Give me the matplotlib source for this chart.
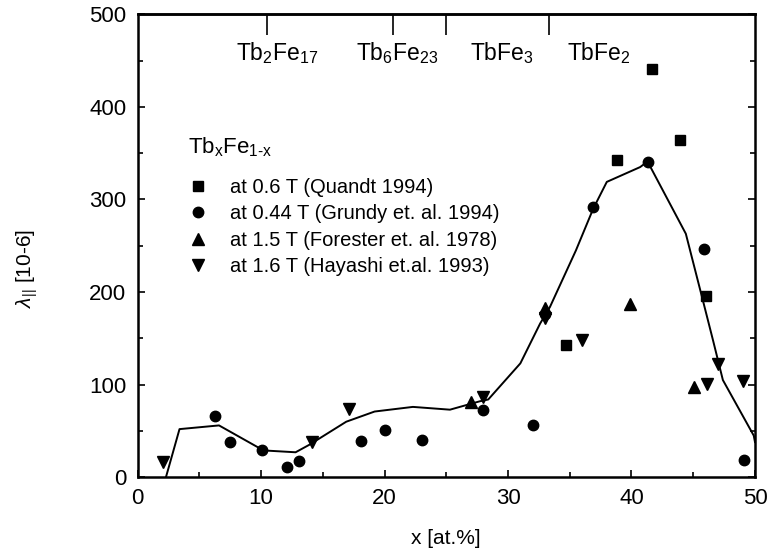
import matplotlib
matplotlib.use("Agg")
import matplotlib.pyplot as plt
from matplotlib.ticker import MultipleLocator

plt.rcParams["font.family"] = ["Liberation Sans", "DejaVu Sans"]
plt.rcParams["mathtext.fontset"] = "custom"
plt.rcParams["mathtext.rm"] = "Liberation Sans"
plt.rcParams["mathtext.it"] = "Liberation Sans:italic"

# Quandt 1994, 0.6 T
quandt_x = [34.7, 38.8, 41.7, 43.9, 46.0]
quandt_y = [143, 343, 441, 364, 196]

# Grundy et al. 1994, 0.44 T
grundy_x = [6.3, 7.5, 10.1, 12.1, 13.1, 18.1, 20.0, 23.0, 28.0, 32.0, 33.0, 36.9, 41.3, 45.9, 49.1]
grundy_y = [66, 38, 29, 11, 18, 39, 51, 40, 73, 56, 176, 292, 341, 246, 19]

# Forester et al. 1978, 1.5 T
forester_x = [27.0, 33.0, 39.9, 45.1]
forester_y = [81, 183, 187, 97]

# Hayashi et al. 1993, 1.6 T
hayashi_x = [2.1, 14.1, 17.1, 28.0, 33.0, 36.0, 46.1, 47.0, 49.0]
hayashi_y = [17, 38, 74, 87, 172, 148, 101, 122, 104]

# guide curve
line_x = [2.3, 3.4, 6.6, 10.2, 12.8, 13.9, 16.9, 19.2, 22.3, 25.3, 27.7, 28.4, 31.0, 32.6,
          33.4, 35.5, 36.9, 38.0, 40.7, 41.3, 44.4, 45.8, 46.6, 47.4, 49.9, 50.0]
line_y = [0, 52, 56, 29, 27, 35, 60, 71, 76, 73, 82, 84, 123, 166,
          184, 245, 290, 319, 335, 341, 263, 190, 148, 105, 45, 38]

# intermetallic phases marked on the top axis
phase_x = [10.5, 20.7, 25.0, 100 / 3]
phase_names = [r"Tb$_\mathrm{2}$Fe$_\mathrm{17}$", r"Tb$_\mathrm{6}$Fe$_\mathrm{23}$",
               r"TbFe$_\mathrm{3}$", r"TbFe$_\mathrm{2}$"]
phase_label_x = [8.0, 17.7, 26.9, 34.8]

fig = plt.figure(figsize=(7.73, 5.54), dpi=100)
ax = fig.add_axes([0.1779, 0.1385, 0.7988, 0.8357])

ax.plot(line_x, line_y, color="black", linewidth=1.4)
ax.plot(quandt_x, quandt_y, "s", color="black", ms=6.5, label="at 0.6 T (Quandt 1994)")
ax.plot(grundy_x, grundy_y, "o", color="black", ms=7.5, label="at 0.44 T (Grundy et. al. 1994)")
ax.plot(forester_x, forester_y, "^", color="black", ms=8, label="at 1.5 T (Forester et. al. 1978)")
ax.plot(hayashi_x, hayashi_y, "v", color="black", ms=8, label="at 1.6 T (Hayashi et.al. 1993)")

ax.set_xlim(0, 50)
ax.set_ylim(0, 500)
ax.xaxis.set_major_locator(MultipleLocator(10))
ax.xaxis.set_minor_locator(MultipleLocator(5))
ax.yaxis.set_major_locator(MultipleLocator(100))
ax.yaxis.set_minor_locator(MultipleLocator(50))
ax.tick_params(which="both", direction="in", top=False, right=True, labelsize=16, width=1.2)
ax.tick_params(which="major", length=5, pad=8)
ax.tick_params(which="minor", length=3.5)
for s in ax.spines.values():
    s.set_linewidth(1.8)

top = ax.secondary_xaxis("top")
top.set_xticks(phase_x)
top.tick_params(direction="in", length=15, width=1.2, labeltop=False)
top.spines["top"].set_linewidth(1.8)

for name, xl in zip(phase_names, phase_label_x):
    ax.text(xl, 450, name, fontsize=16.5, ha="left", va="baseline")

ax.set_xlabel("x [at.%]", fontsize=15, labelpad=14)
ax.set_ylabel(r"$\lambda_{||}$ [10-6]", fontsize=15)
ax.yaxis.set_label_coords(-0.158, 0.452)

# legend title drawn as plain text so the gap to the entries can match
ax.text(0.082, 0.700, r"Tb$_\mathrm{x}$Fe$_\mathrm{1\text{-}x}$", transform=ax.transAxes,
        fontsize=16, ha="left", va="baseline")
ax.legend(loc="upper left", bbox_to_anchor=(0.082, 0.646), frameon=False,
          numpoints=1, fontsize=14.5, borderpad=0, borderaxespad=0,
          handlelength=1.0, handletextpad=1.1, labelspacing=0.36)

fig.savefig("out.png", dpi=100, facecolor="white")
